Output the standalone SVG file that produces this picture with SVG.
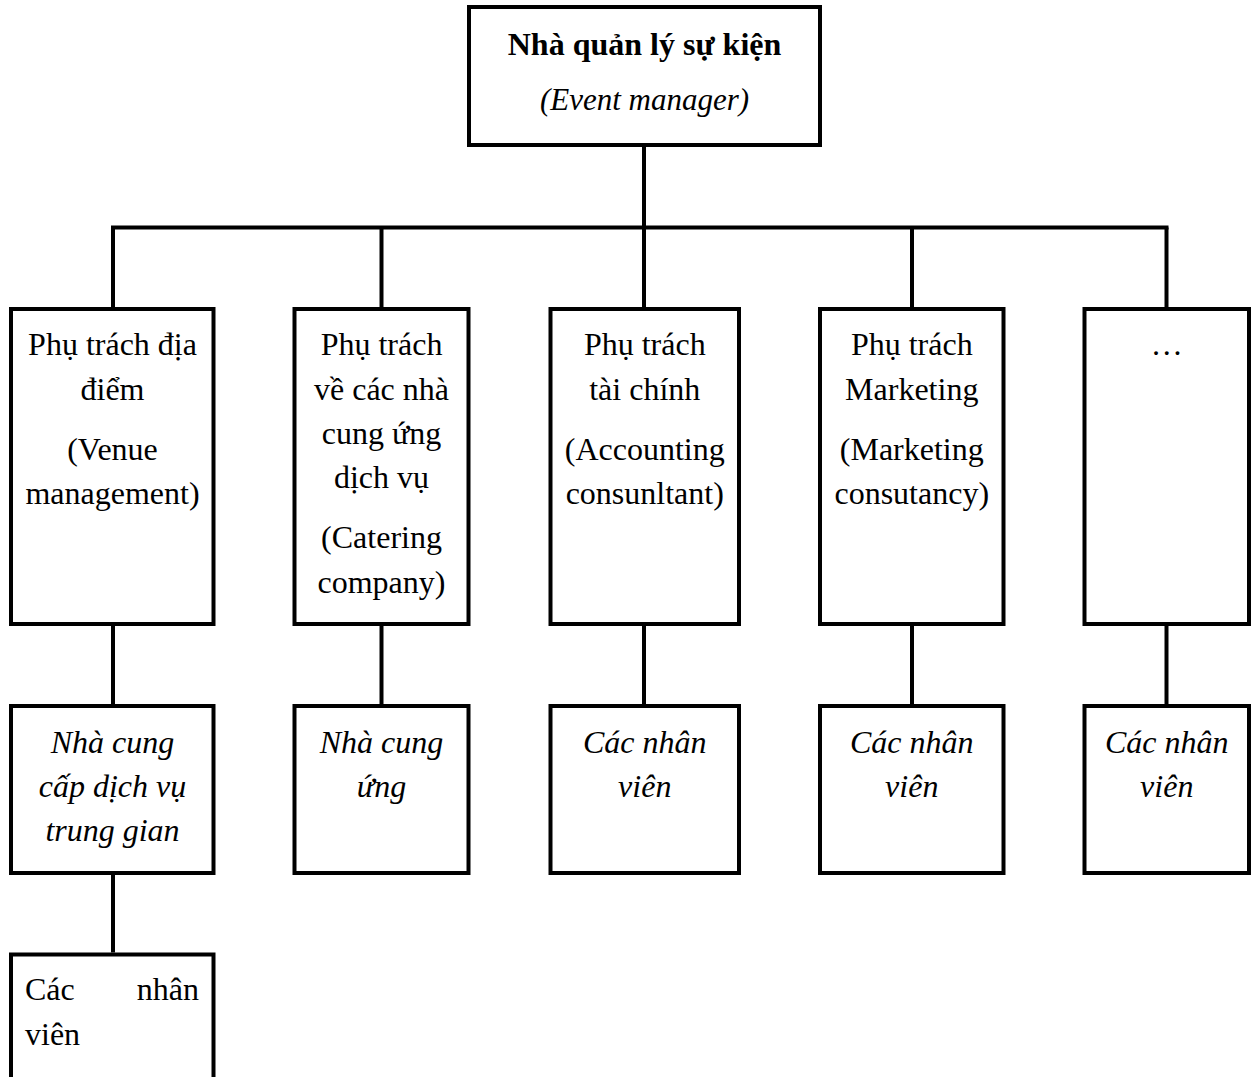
<svg xmlns="http://www.w3.org/2000/svg" width="1251" height="1077" viewBox="0 0 1251 1077">
<style>
  .box { fill: #ffffff; stroke: #000000; stroke-width: 4; }
  .ln { stroke: #000000; stroke-width: 4; fill: none; stroke-linecap: butt; }
  text { font-family: "Liberation Serif", "Times New Roman", serif; font-size: 32px; fill: #000000; }
  .c { text-anchor: middle; }
  .b { font-weight: bold; }
  .i { font-style: italic; }
</style>
<rect x="0" y="0" width="1251" height="1077" fill="#ffffff"/>
<g id="connectors">
  <line class="ln" x1="644" y1="147" x2="644" y2="227.5"/>
  <line class="ln" x1="111" y1="227.5" x2="1168.5" y2="227.5"/>
  <line class="ln" x1="113" y1="227.5" x2="113" y2="307"/>
  <line class="ln" x1="381.5" y1="227.5" x2="381.5" y2="307"/>
  <line class="ln" x1="644" y1="227.5" x2="644" y2="307"/>
  <line class="ln" x1="912" y1="227.5" x2="912" y2="307"/>
  <line class="ln" x1="1166.5" y1="227.5" x2="1166.5" y2="307"/>
  <line class="ln" x1="113" y1="626" x2="113" y2="704"/>
  <line class="ln" x1="381.5" y1="626" x2="381.5" y2="704"/>
  <line class="ln" x1="644" y1="626" x2="644" y2="704"/>
  <line class="ln" x1="912" y1="626" x2="912" y2="704"/>
  <line class="ln" x1="1166.5" y1="626" x2="1166.5" y2="704"/>
  <line class="ln" x1="113" y1="875" x2="113" y2="952.5"/>
</g>
<g id="event-manager">
  <rect class="box" x="469" y="7" width="351" height="138"/>
  <text class="c b" x="644.5" y="55">Nhà quản lý sự kiện</text>
  <text class="c i" x="644.5" y="110" style="font-size:31px">(Event manager)</text>
</g>
<g id="venue">
  <rect class="box" x="11" y="309" width="202.5" height="315"/>
  <text class="c" x="112.5" y="355">Phụ trách địa</text>
  <text class="c" x="112.5" y="400">điểm</text>
  <text class="c" x="112.5" y="460">(Venue</text>
  <text class="c" x="112.5" y="504">management)</text>
</g>
<g id="catering">
  <rect class="box" x="294.5" y="309" width="174" height="315"/>
  <text class="c" x="381.5" y="355">Phụ trách</text>
  <text class="c" x="381.5" y="400">về các nhà</text>
  <text class="c" x="381.5" y="444">cung ứng</text>
  <text class="c" x="381.5" y="488">dịch vụ</text>
  <text class="c" x="381.5" y="548">(Catering</text>
  <text class="c" x="381.5" y="593">company)</text>
</g>
<g id="accounting">
  <rect class="box" x="550.5" y="309" width="188.5" height="315"/>
  <text class="c" x="644.75" y="355">Phụ trách</text>
  <text class="c" x="644.75" y="400">tài chính</text>
  <text class="c" x="644.75" y="460">(Accounting</text>
  <text class="c" x="644.75" y="504">consunltant)</text>
</g>
<g id="marketing">
  <rect class="box" x="820" y="309" width="183.5" height="315"/>
  <text class="c" x="911.75" y="355">Phụ trách</text>
  <text class="c" x="911.75" y="400">Marketing</text>
  <text class="c" x="911.75" y="460">(Marketing</text>
  <text class="c" x="911.75" y="504">consutancy)</text>
</g>
<g id="other">
  <rect class="box" x="1084.5" y="309" width="164.5" height="315"/>
  <text class="c" x="1166.75" y="355">…</text>
</g>
<g id="intermediary">
  <rect class="box" x="11" y="706" width="202.5" height="167"/>
  <text class="c i" x="112.5" y="753">Nhà cung</text>
  <text class="c i" x="112.5" y="797">cấp dịch vụ</text>
  <text class="c i" x="112.5" y="841">trung gian</text>
</g>
<g id="supplier">
  <rect class="box" x="294.5" y="706" width="174" height="167"/>
  <text class="c i" x="381.5" y="753">Nhà cung</text>
  <text class="c i" x="381.5" y="797">ứng</text>
</g>
<g id="staff-accounting">
  <rect class="box" x="550.5" y="706" width="188.5" height="167"/>
  <text class="c i" x="644.75" y="753">Các nhân</text>
  <text class="c i" x="644.75" y="797">viên</text>
</g>
<g id="staff-marketing">
  <rect class="box" x="820" y="706" width="183.5" height="167"/>
  <text class="c i" x="911.75" y="753">Các nhân</text>
  <text class="c i" x="911.75" y="797">viên</text>
</g>
<g id="staff-other">
  <rect class="box" x="1084.5" y="706" width="164.5" height="167"/>
  <text class="c i" x="1166.75" y="753">Các nhân</text>
  <text class="c i" x="1166.75" y="797">viên</text>
</g>
<g id="staff-intermediary">
  <rect class="box" x="11" y="954.5" width="202.5" height="200"/>
  <text x="25" y="1000">Các</text>
  <text x="199" y="1000" style="text-anchor:end">nhân</text>
  <text x="25" y="1045">viên</text>
</g>
</svg>
